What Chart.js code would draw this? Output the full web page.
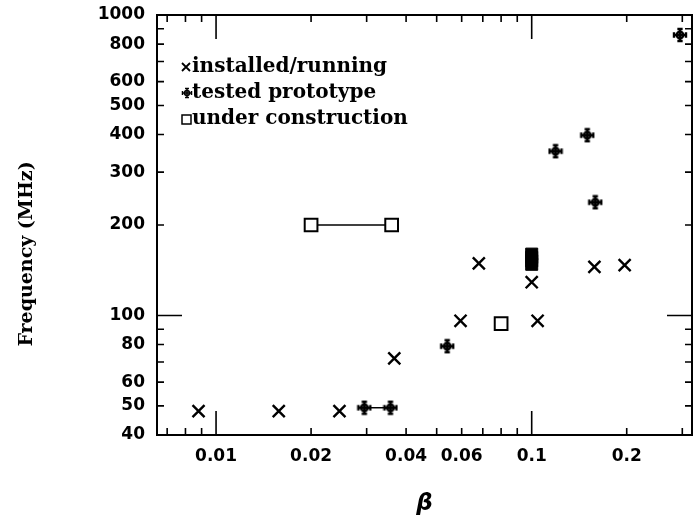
<!DOCTYPE html>
<html lang="en">
<head>
<meta charset="UTF-8">
<title>Frequency vs beta</title>
<script src="https://cdn.jsdelivr.net/npm/chart.js"></script>
<style>
  body { margin: 0; background: #fff; }
</style>
</head>
<body>
<canvas id="betaChart" width="693" height="518"></canvas>
<script>
// values (beta, frequency in MHz)
const installedBeta = [0.0088, 0.0158, 0.0246, 0.0367, 0.0595, 0.068, 0.1, 0.1044, 0.158, 0.197];
const installedFreq = [48, 48, 48, 72, 96, 149, 129, 96, 145, 147];

const prototypeBeta = [0.054, 0.119, 0.15, 0.159, 0.295];
const prototypeFreq = [79, 352, 398, 238, 858];
const prototypePairBeta = [0.0295, 0.0357];
const prototypePairFreq = [49.3, 49.3];

const constructionBeta = [0.08];
const constructionFreq = [94];
const constructionPairBeta = [0.02, 0.036];
const constructionPairFreq = [200, 200];
const constructionBlockBeta = [0.1, 0.1, 0.1, 0.1];
const constructionBlockFreq = [148, 152, 156, 160];

const legendLabels = ['installed/running', 'tested prototype', 'under construction'];

// axis ticks
const xTickLabels = [0.01, 0.02, 0.04, 0.06, 0.1, 0.2];
const xMinorTicks = [0.007, 0.008, 0.009, 0.01, 0.02, 0.03, 0.04, 0.05, 0.06, 0.07, 0.08, 0.09, 0.1, 0.2, 0.3];
const xLongTicks = [0.01, 0.1];
const yTickLabels = [40, 50, 60, 80, 100, 200, 300, 400, 500, 600, 800, 1000];
const yMinorTicks = [50, 60, 70, 80, 90, 100, 200, 300, 400, 500, 600, 700, 800, 900];
const yLongTicks = [100];

function pts(xs, ys) {
  return xs.map((v, i) => ({x: v, y: ys[i]}));
}

// the "tested prototype" symbol: cross with end bars and a small ring
function drawProto(ctx, cx, cy, s) {
  const h = s / 2, b = s * 0.22;
  ctx.beginPath();
  ctx.moveTo(cx, cy - h); ctx.lineTo(cx, cy + h);
  ctx.moveTo(cx - h, cy); ctx.lineTo(cx + h, cy);
  ctx.moveTo(cx - b, cy - h); ctx.lineTo(cx + b, cy - h);
  ctx.moveTo(cx - b, cy + h); ctx.lineTo(cx + b, cy + h);
  ctx.moveTo(cx - h, cy - b); ctx.lineTo(cx - h, cy + b);
  ctx.moveTo(cx + h, cy - b); ctx.lineTo(cx + h, cy + b);
  ctx.stroke();
  ctx.beginPath();
  ctx.arc(cx, cy, s * 0.27, 0, Math.PI * 2);
  ctx.stroke();
}

const protoIcon = document.createElement('canvas');
protoIcon.width = 16; protoIcon.height = 16;
(function () {
  const c = protoIcon.getContext('2d');
  c.strokeStyle = '#000';
  c.lineWidth = 2.4;
  drawProto(c, 8, 8, 12);
})();

const frameAndTicks = {
  id: 'frameAndTicks',
  afterDraw(chart) {
    const {ctx, chartArea: a, scales: {x, y}} = chart;
    ctx.save();
    ctx.strokeStyle = '#000';
    ctx.fillStyle = '#000';
    ctx.lineWidth = 2;
    ctx.strokeRect(a.left, a.top, a.right - a.left, a.bottom - a.top);

    ctx.lineWidth = 1.6;
    ctx.beginPath();
    xMinorTicks.forEach(v => {
      const px = x.getPixelForValue(v);
      const len = xLongTicks.includes(v) ? 24 : 7;
      ctx.moveTo(px, a.bottom); ctx.lineTo(px, a.bottom - len);
      ctx.moveTo(px, a.top); ctx.lineTo(px, a.top + len);
    });
    yMinorTicks.forEach(v => {
      const py = y.getPixelForValue(v);
      const len = yLongTicks.includes(v) ? 25 : 7;
      ctx.moveTo(a.left, py); ctx.lineTo(a.left + len, py);
      ctx.moveTo(a.right, py); ctx.lineTo(a.right - len, py);
    });
    ctx.stroke();

    // legend in the top left corner
    const lx = a.left + 29, tx = a.left + 35;
    const rows = [a.top + 52, a.top + 78, a.top + 104];
    ctx.font = 'bold 20px "DejaVu Serif"';
    ctx.textBaseline = 'alphabetic';
    ctx.textAlign = 'left';
    legendLabels.forEach((t, i) => ctx.fillText(t, tx, rows[i] + 5));
    ctx.lineWidth = 1.8;
    ctx.beginPath();
    ctx.moveTo(lx - 4, rows[0] - 4); ctx.lineTo(lx + 4, rows[0] + 4);
    ctx.moveTo(lx + 4, rows[0] - 4); ctx.lineTo(lx - 4, rows[0] + 4);
    ctx.stroke();
    ctx.lineWidth = 1.5;
    drawProto(ctx, lx + 1, rows[1], 9);
    ctx.strokeRect(lx - 4, rows[2] - 4, 9, 9);

    // y axis title
    ctx.translate(27, 254);
    ctx.rotate(-Math.PI / 2);
    ctx.textAlign = 'center';
    ctx.textBaseline = 'middle';
    ctx.font = 'bold 19px "DejaVu Serif"';
    ctx.fillText('Frequency (MHz)', 0, 0);
    ctx.restore();
  }
};

new Chart(document.getElementById('betaChart'), {
  type: 'scatter',
  data: {
    datasets: [
      {
        label: 'under construction pair',
        data: pts(constructionPairBeta, constructionPairFreq),
        showLine: true,
        borderColor: '#000',
        borderWidth: 1.5,
        pointStyle: 'rect',
        pointRadius: 9,
        pointBorderWidth: 2,
        pointBackgroundColor: '#fff'
      },
      {
        label: 'tested prototype pair',
        data: pts(prototypePairBeta, prototypePairFreq),
        showLine: true,
        borderColor: '#000',
        borderWidth: 1.5,
        pointStyle: protoIcon
      },
      {
        label: 'installed/running',
        data: pts(installedBeta, installedFreq),
        pointStyle: 'crossRot',
        pointRadius: 8.5,
        pointBorderWidth: 2.4,
        borderColor: '#000'
      },
      {
        label: 'tested prototype',
        data: pts(prototypeBeta, prototypeFreq),
        pointStyle: protoIcon
      },
      {
        label: 'under construction',
        data: pts(constructionBeta, constructionFreq),
        pointStyle: 'rect',
        pointRadius: 9,
        pointBorderWidth: 2,
        borderColor: '#000',
        pointBackgroundColor: '#fff'
      },
      {
        label: 'under construction block',
        data: pts(constructionBlockBeta, constructionBlockFreq),
        pointStyle: 'rect',
        pointRadius: 8.5,
        pointBorderWidth: 1,
        borderColor: '#000',
        pointBackgroundColor: '#000'
      }
    ]
  },
  options: {
    responsive: false,
    animation: false,
    devicePixelRatio: 1,
    layout: {autoPadding: false, padding: {top: 15, right: 1, left: 0, bottom: 0}},
    plugins: {
      legend: {display: false},
      tooltip: {enabled: false}
    },
    scales: {
      x: {
        type: 'logarithmic',
        min: 0.0065,
        max: 0.322,
        grid: {display: false, drawTicks: false},
        border: {display: false},
        afterBuildTicks: s => { s.ticks = xTickLabels.map(v => ({value: v})); },
        afterFit: s => { s.height = 83; s.paddingLeft = 0; s.paddingRight = 0; },
        ticks: {
          autoSkip: false,
          maxRotation: 0,
          padding: 11,
          color: '#000',
          font: {family: '"DejaVu Sans"', size: 17, weight: 'bold'},
          callback: v => String(v)
        },
        title: {
          display: true,
          text: 'β',
          color: '#000',
          padding: {top: 0, bottom: 0},
          font: {family: '"DejaVu Sans"', size: 23, weight: 'bold', style: 'italic'}
        }
      },
      y: {
        type: 'logarithmic',
        min: 40,
        max: 1000,
        grid: {display: false, drawTicks: false},
        border: {display: false},
        afterBuildTicks: s => { s.ticks = yTickLabels.map(v => ({value: v})); },
        afterFit: s => { s.width = 157; s.paddingTop = 0; s.paddingBottom = 0; },
        ticks: {
          autoSkip: false,
          padding: 12,
          color: '#000',
          font: {family: '"DejaVu Sans"', size: 17, weight: 'bold'},
          callback: v => String(v)
        }
      }
    }
  },
  plugins: [frameAndTicks]
});
</script>
</body>
</html>
